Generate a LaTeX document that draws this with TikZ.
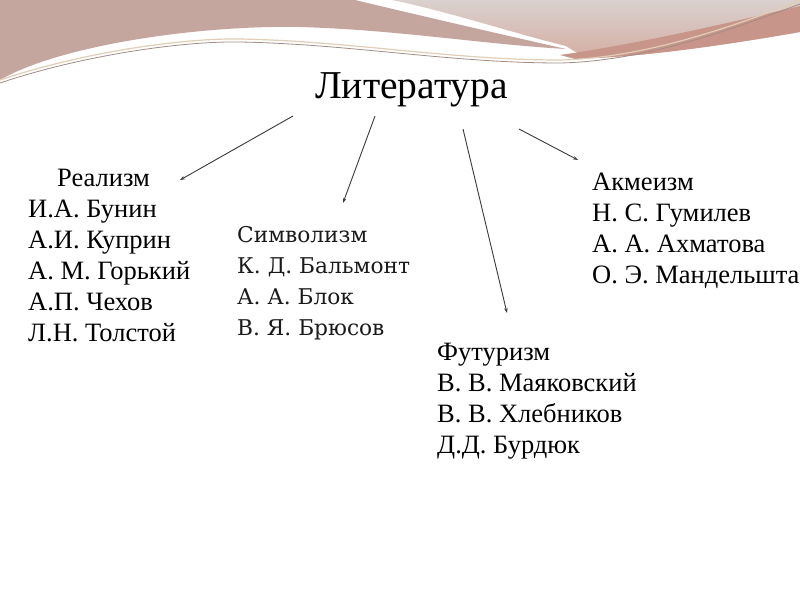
\documentclass[tikz,border=0pt]{standalone}
\usepackage{fontspec}
\setmainfont{Liberation Serif}
\newfontfamily\symfont{DejaVu Serif}
\usetikzlibrary{arrows.meta}
\definecolor{pinkA}{HTML}{C5A69E}
\definecolor{greyTop}{HTML}{DAD1CE}
\definecolor{pinkBot}{HTML}{D4AEA3}
\definecolor{darkBand}{HTML}{C7958A}
\definecolor{lineBrown}{HTML}{A48C84}
\definecolor{lineBeige}{HTML}{E2CDB6}
\definecolor{arrowGrey}{HTML}{3A3A3A}
\definecolor{symText}{HTML}{1A1A1A}
\tikzset{
  title/.style={font=\fontsize{39.5}{45}\selectfont, inner sep=0pt, anchor=base west},
  group/.style={font=\fontsize{26.5}{31}\selectfont, inner sep=0pt, anchor=base west},
  symgroup/.style={font=\symfont\fontsize{21.7}{31}\selectfont, text=symText, inner sep=0pt, anchor=base west},
  link/.style={draw=arrowGrey, line width=0.9pt, -{Stealth[length=5pt,width=3.5pt]}}
}
\newcommand{\blk}[1]{\begin{tabular}[t]{@{}l@{}}#1\end{tabular}}
\begin{document}
\begin{tikzpicture}[x=1pt,y=-1pt]
\useasboundingbox (0,0) rectangle (800,600);
\fill[white] (0,0) rectangle (800,600);
% decoration
\shade[top color=greyTop, bottom color=pinkBot]
  (392,0) -- (800,0) -- (800,32)
  .. controls (720,46) and (640,57) .. (590,58)
  .. controls (580,55) and (572,50) .. (566,46)
  .. controls (520,35) and (450,12) .. (392,0) -- cycle;
\fill[pinkA] (0,0) -- (355,0)
  .. controls (430,18) and (500,34) .. (566,49)
  .. controls (480,44) and (400,30) .. (300,27)
  .. controls (200,25) and (60,45) .. (0,80) -- cycle;
\fill[darkBand] (560,55) .. controls (650,42) and (740,20) .. (800,6)
  -- (800,32) .. controls (720,46) and (640,57) .. (575,59) -- cycle;
\draw[lineBeige, line width=1.2pt] (0,80) .. controls (80,53) and (180,38) .. (240,39)
  .. controls (350,41) and (450,60) .. (560,60) .. controls (650,58) and (740,23) .. (800,1);
\draw[lineBrown, line width=0.8pt] (0,83) .. controls (80,56) and (180,41) .. (240,42)
  .. controls (350,44) and (450,63) .. (560,63) .. controls (650,61) and (740,26) .. (800,4);
% title
\node[title] (lit) at (315,98) {Литература};
% groups
\node[group] (real) at (28,186) {\blk{\hspace*{29pt}Реализм\\И.А. Бунин\\А.И. Куприн\\А. М. Горький\\А.П. Чехов\\Л.Н. Толстой}};
\node[symgroup] (sym) at (237,242) {\blk{Символизм\\К. Д. Бальмонт\\А. А. Блок\\В. Я. Брюсов}};
\node[group] (fut) at (437,360) {\blk{Футуризм\\В. В. Маяковский\\В. В. Хлебников\\Д.Д. Бурдюк}};
\node[group] (akm) at (592,190) {\blk{Акмеизм\\Н. С. Гумилев\\А. А. Ахматова\\О. Э. Мандельштам}};
% connector ends
\coordinate (s1) at (293,116); \coordinate (e1) at (180,180);
\coordinate (s2) at (375,116); \coordinate (e2) at (343,203);
\coordinate (s3) at (463,129); \coordinate (e3) at (507,313);
\coordinate (s4) at (519,129); \coordinate (e4) at (578,160);
\draw[link] (s1) -- (e1);
\draw[link] (s2) -- (e2);
\draw[link] (s3) -- (e3);
\draw[link] (s4) -- (e4);
\end{tikzpicture}
\end{document}
